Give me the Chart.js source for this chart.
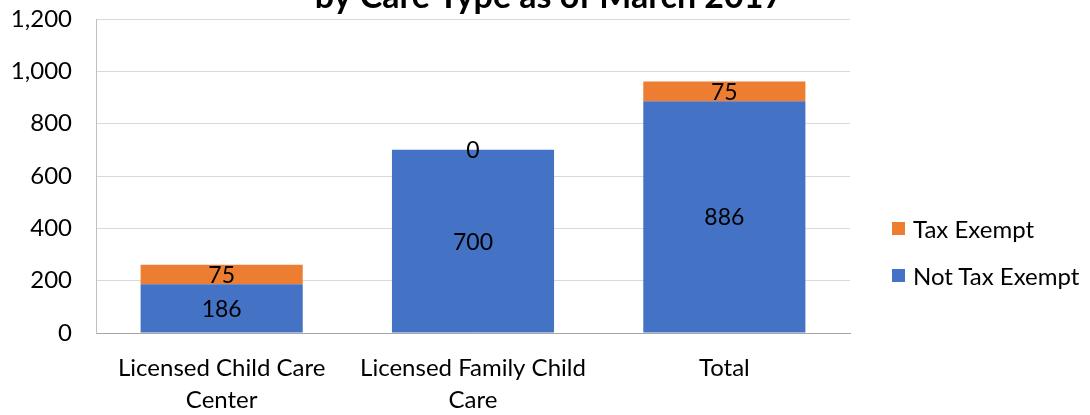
<!DOCTYPE html>
<html>
<head>
<meta charset="utf-8">
<script src="https://cdn.jsdelivr.net/npm/chart.js@4"></script>
<style>
    body { margin: 0; background: #fff; overflow: hidden; }
    #wrap { position: relative; width: 1090px; height: 415px; }
    #legend { position: absolute; left: 892px; top: 213px; font-family: Lato, sans-serif; font-size: 24px; color: #000; }
    #legend div { display: flex; align-items: center; height: 30px; margin-bottom: 17px; white-space: nowrap; }
    #legend span.box { display: inline-block; width: 13px; height: 13px; margin-right: 8px; }
</style>
</head>
<body>
<div id="wrap">
    <canvas id="chart" width="1090" height="415"></canvas>
    <div id="legend"></div>
</div>
<script>
const categories = [["Licensed Child Care", "Center"], ["Licensed Family Child", "Care"], ["Total"]];
const notTaxExempt = [186, 700, 886];
const taxExempt = [75, 0, 75];
const seriesNames = ["Not Tax Exempt", "Tax Exempt"];
const seriesColors = ["#4472C4", "#ED7D31"];
const titleText = "by Care Type as of March 2017";

const FONT = "Lato, sans-serif";

// draws the value in the middle of each segment
const segmentLabels = {
    id: "segmentLabels",
    afterDatasetsDraw(chart) {
        const ctx = chart.ctx;
        ctx.save();
        ctx.font = "23px " + FONT;
        ctx.fillStyle = "#000";
        ctx.textAlign = "center";
        ctx.textBaseline = "middle";
        chart.data.datasets.forEach((ds, i) => {
            chart.getDatasetMeta(i).data.forEach((bar, j) => {
                const p = bar.getProps(["x", "y", "base"], true);
                ctx.fillText(String(ds.data[j]), p.x, (p.y + p.base) / 2 + 1);
            });
        });
        ctx.restore();
    }
};

// title sits partly above the canvas, only its last line shows
const clippedTitle = {
    id: "clippedTitle",
    afterDraw(chart) {
        const ctx = chart.ctx;
        ctx.save();
        ctx.font = "bold 34px " + FONT;
        ctx.fillStyle = "#000";
        ctx.textAlign = "center";
        ctx.textBaseline = "alphabetic";
        ctx.fillText(titleText, 549, 8);
        ctx.restore();
    }
};

const chart = new Chart(document.getElementById("chart"), {
    type: "bar",
    data: {
        labels: categories,
        datasets: [
            { label: seriesNames[0], data: notTaxExempt, backgroundColor: seriesColors[0] },
            { label: seriesNames[1], data: taxExempt, backgroundColor: seriesColors[1] }
        ]
    },
    options: {
        responsive: false,
        animation: false,
        layout: { padding: { top: 19, right: 240, left: 12, bottom: 0 } },
        datasets: { bar: { categoryPercentage: 1, barPercentage: 0.645 } },
        plugins: {
            legend: { display: false },
            tooltip: { enabled: false }
        },
        scales: {
            x: {
                stacked: true,
                grid: { display: false, drawTicks: false },
                border: { color: "#a6a6a6", width: 1 },
                ticks: {
                    color: "#000",
                    padding: 19,
                    maxRotation: 0,
                    font: { family: FONT, size: 24, lineHeight: 1.33 }
                },
                afterFit: s => { s.paddingLeft = 0; s.paddingRight = 0; s.height = 82; }
            },
            y: {
                stacked: true,
                min: 0,
                max: 1200,
                grid: { color: "#d9d9d9", drawTicks: false },
                border: { color: "#bfbfbf", width: 1 },
                ticks: {
                    stepSize: 200,
                    color: "#000",
                    padding: 24,
                    font: { family: FONT, size: 24 }
                },
                afterFit: s => { s.paddingTop = 0; s.paddingBottom = 0; s.width = 84; }
            }
        }
    },
    plugins: [segmentLabels, clippedTitle]
});

const legendEl = document.getElementById("legend");
[1, 0].forEach(i => {
    const row = document.createElement("div");
    row.innerHTML = `<span class="box" style="background:${seriesColors[i]}"></span>${seriesNames[i]}`;
    legendEl.appendChild(row);
});
</script>
</body>
</html>
